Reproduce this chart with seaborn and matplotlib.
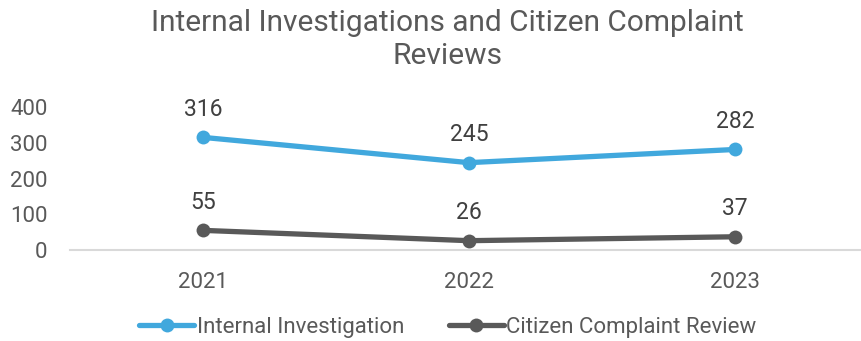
import matplotlib
matplotlib.use("Agg")
import matplotlib.pyplot as plt
import seaborn as sns
import pandas as pd
from matplotlib.lines import Line2D

years = ["2021", "2022", "2023"]
internal_investigation = [316, 245, 282]
citizen_complaint_review = [55, 26, 37]
series_names = ["Internal Investigation", "Citizen Complaint Review"]
palette = ["#41A8DD", "#595959"]
text_color = "#595959"

sns.set_theme(style="white")
plt.rcParams["font.family"] = ["Roboto", "DejaVu Sans"]

df = pd.DataFrame({
    "Count": internal_investigation + citizen_complaint_review,
    "Series": [series_names[0]] * 3 + [series_names[1]] * 3,
    "pos": [0, 1, 2] * 2,
})

fig = plt.figure(figsize=(8.61, 3.41), dpi=100)
ax = fig.add_axes([0.081, 0.267, 0.918, 0.418])

sns.lineplot(data=df, x="pos", y="Count", hue="Series", palette=palette,
             marker="o", markersize=10, markeredgewidth=0, linewidth=3.8,
             ax=ax, legend=False, sort=False)

for vals in [internal_investigation, citizen_complaint_review]:
    for i, v in enumerate(vals):
        ax.annotate(str(v), (i, v), xytext=(0, 12), textcoords="offset points",
                    ha="center", va="bottom", fontsize=16.5, color="#404040")

ax.set_ylim(0, 400)
ax.set_xlim(-0.5, 2.47)
ax.set_yticks([0, 100, 200, 300, 400])
ax.set_xticks([0, 1, 2])
ax.set_xticklabels(years)
ax.tick_params(axis="both", labelsize=16, colors=text_color, length=0)
ax.tick_params(axis="y", pad=16)
ax.tick_params(axis="x", pad=16)
ax.set_xlabel("")
ax.set_ylabel("")
for side in ["top", "right", "left"]:
    ax.spines[side].set_visible(False)
ax.spines["bottom"].set_color("#D9D9D9")
ax.spines["bottom"].set_linewidth(1.5)
ax.patch.set_alpha(0)

fig.text(0.52, 0.975, "Internal Investigations and Citizen Complaint\nReviews",
         ha="center", va="top", fontsize=21.5, color=text_color, linespacing=1.27)

handles = [Line2D([0], [0], color=c, lw=3.8, marker="o", markersize=10, markeredgewidth=0)
           for c in palette]
fig.legend(handles, series_names, loc="center", bbox_to_anchor=(0.52, 0.04),
           ncol=2, frameon=False, fontsize=16, labelcolor=text_color,
           handlelength=2.5, handletextpad=0.1, columnspacing=2.0)

fig.savefig("out.png", dpi=100)
